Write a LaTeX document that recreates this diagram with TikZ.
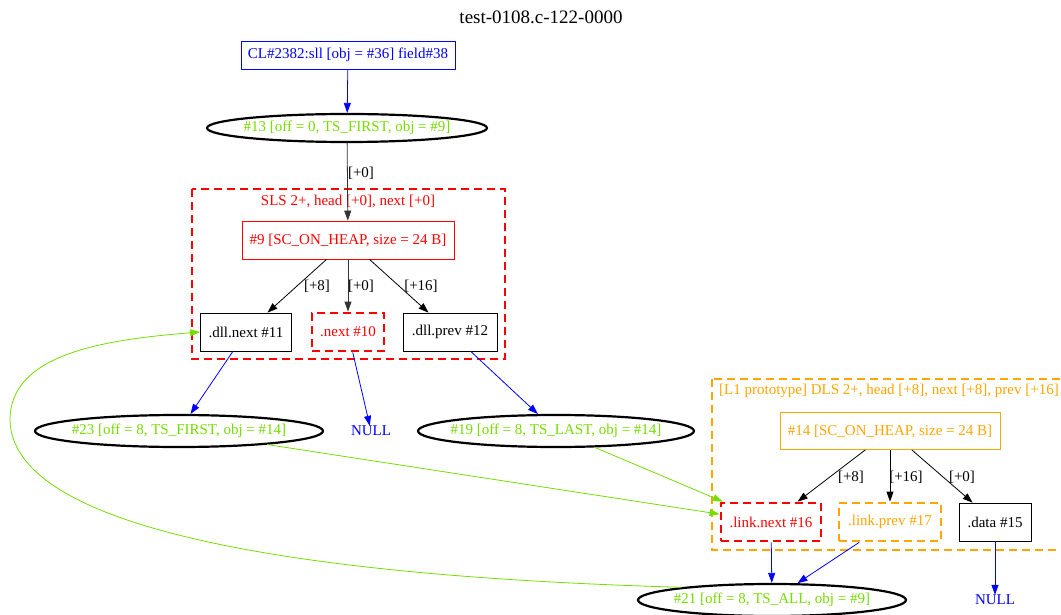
\documentclass[tikz,border=0pt]{standalone}
\usepackage{fontspec}
\setmainfont{Liberation Serif}
\usetikzlibrary{arrows.meta,shapes.geometric}
\definecolor{gvgreen}{RGB}{118,221,0}
\definecolor{gvorange}{RGB}{255,165,0}
\definecolor{gvred}{RGB}{255,0,0}
\definecolor{gvblue}{RGB}{0,0,255}
\newcommand{\zw}[1]{\makebox[0pt]{#1}}
\tikzset{
  every node/.style={font=\fontsize{15}{17}\selectfont, inner sep=0pt},
  box/.style={draw, rectangle, line width=0.8pt},
  dbox/.style={draw, rectangle, line width=2.8pt, dash pattern=on 8pt off 5pt},
  ell/.style={draw, ellipse, line width=2.2pt, text=gvgreen},
  cluster/.style={line width=2.8pt, dash pattern=on 8pt off 5pt},
  edge/.style={line width=0.8pt, -{Triangle[length=10pt,width=7pt]}},
  lbl/.style={font=\fontsize{15}{17}\selectfont},
}
\begin{document}
\begin{tikzpicture}[x=1pt,y=-1pt]
\useasboundingbox (0,0) rectangle (1061,615);
\clip (0,0) rectangle (1061,615);
% title
\node (title) at (541,17) {\fontsize{19}{21}\selectfont test-0108.c-122-0000};
% clusters
\draw[cluster, gvred] (192,189) rectangle (505,359);
\node[text=gvred] (cl1lbl) at (348,201) {SLS 2+, head [+0], next [+0]};
\draw[cluster, gvorange] (712,379) rectangle (1066,550);
\node[text=gvorange, anchor=west] (cl2lbl) at (719,391) {[L1 prototype] DLS 2+, head [+8], next [+8], prev [+16]};
% nodes
\node[box, draw=gvblue, text=gvblue, minimum width=214pt, minimum height=28pt] (cl) at (348,55) {CL\#2382:sll [obj = \#36] field\#38};
\node[ell, minimum width=280pt, minimum height=28pt] (n13) at (347,128) {\zw{\#13 [off = 0, TS\_FIRST, obj = \#9]}};
\node[box, draw=gvred, text=gvred, minimum width=212pt, minimum height=38pt] (n9) at (348,240) {\#9 [SC\_ON\_HEAP, size = 24 B]};
\node[box, minimum width=91pt, minimum height=38pt] (n11) at (246,332) {.dll.next \#11};
\node[dbox, draw=gvred, text=gvred, minimum width=72pt, minimum height=38pt] (n10) at (348,332) {.next \#10};
\node[box, minimum width=94pt, minimum height=38pt] (n12) at (450,332) {.dll.prev \#12};
\node[ell, minimum width=288pt, minimum height=32pt] (n23) at (179,431) {\zw{\#23 [off = 8, TS\_FIRST, obj = \#14]}};
\node[text=gvblue] (null1) at (371,431) {NULL};
\node[ell, minimum width=276pt, minimum height=32pt] (n19) at (556,431) {\zw{\#19 [off = 8, TS\_LAST, obj = \#14]}};
\node[box, draw=gvorange, text=gvorange, minimum width=220pt, minimum height=37pt] (n14) at (890,431) {\#14 [SC\_ON\_HEAP, size = 24 B]};
\node[dbox, draw=gvred, text=gvred, minimum width=100pt, minimum height=38pt] (n16) at (771,522) {.link.next \#16};
\node[dbox, draw=gvorange, text=gvorange, minimum width=102pt, minimum height=38pt] (n17) at (890,522) {.link.prev \#17};
\node[box, minimum width=72pt, minimum height=38pt] (n15) at (995,522) {.data \#15};
\node[ell, minimum width=268pt, minimum height=32pt] (n21) at (772,600) {\zw{\#21 [off = 8, TS\_ALL, obj = \#9]}};
\node[text=gvblue] (null2) at (995,600) {NULL};
% edges
\draw[edge, gvblue] (cl) -- (n13);
\draw[edge, black!80] (n13) -- (n9);
\node[lbl] (l0) at (361,173) {[+0]};
\draw[edge] (n9) -- (n11);
\node[lbl] (l1) at (317,286) {[+8]};
\draw[edge, black!80] (n9) -- (n10);
\node[lbl] (l2) at (361,286) {[+0]};
\draw[edge] (n9) -- (n12);
\node[lbl] (l3) at (421,286) {[+16]};
\draw[edge, gvblue] (n11) -- (n23);
\draw[edge, gvblue] (n10) -- (null1);
\draw[edge, gvblue] (n12) -- (n19);
\draw[edge] (n14) -- (n16);
\node[lbl] (l4) at (851,477) {[+8]};
\draw[edge] (n14) -- (n17);
\node[lbl] (l5) at (906,477) {[+16]};
\draw[edge] (n14) -- (n15);
\node[lbl] (l6) at (962,477) {[+0]};
\draw[edge, gvblue] (n16) -- (n21);
\draw[edge, gvblue] (n17) -- (n21);
\draw[edge, gvblue] (n15) -- (null2);
\draw[edge, gvgreen] (n23) -- (n16);
\draw[edge, gvgreen] (n19) -- (n16);
\draw[edge, gvgreen] (n21.172) .. controls (250,575) and (12,520) .. (10,420) .. controls (10,355) and (100,340) .. (n11.west);
\end{tikzpicture}
\end{document}
